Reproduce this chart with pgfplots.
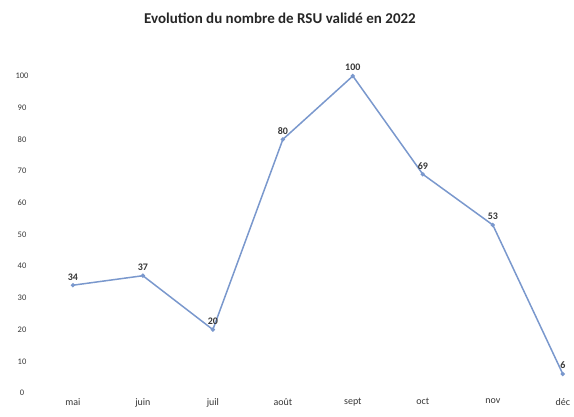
\documentclass[border=0pt]{standalone}
\usepackage{pgfplots}
\pgfplotsset{compat=1.18}
\usepackage{fontspec}
\setmainfont{Carlito}
\definecolor{linec}{RGB}{122,152,205}
\definecolor{lab}{RGB}{55,55,55}
\begin{document}
\begin{tikzpicture}[x=1pt,y=1pt]
\useasboundingbox (0,0) rectangle (574,416);
\node[font=\fontsize{15}{17}\selectfont\bfseries, text=black!85] at (280,398) {Evolution du nombre de RSU validé en 2022};
\begin{axis}[
  at={(40pt,23pt)}, anchor=south west,
  scale only axis, width=534pt, height=317pt,
  xmin=-0.47, xmax=7.16, ymin=0, ymax=100,
  axis line style={draw=none}, tick style={draw=none},
  xtick={0,...,7},
  xticklabels={mai,juin,juil,août,sept,oct,nov,déc},
  ytick={0,10,...,100},
  x tick label style={font=\fontsize{10}{11}\selectfont, text=lab, yshift=-2pt},
  y tick label style={font=\fontsize{8.5}{9}\selectfont, text=lab},
  yticklabel style={anchor=center, xshift=-18pt},
  /pgf/number format/assume math mode=true,
  clip=false,
  nodes near coords,
  every node near coord/.append style={font=\fontsize{10}{11}\selectfont\bfseries, text=lab, yshift=1pt},
]
\addplot[color=linec, line width=1.5pt, mark=*, mark size=1.3pt, mark options={fill=linec, draw=linec}]
coordinates {(0,34) (1,37) (2,20) (3,80) (4,100) (5,69) (6,53) (7,6)};
\end{axis}
\end{tikzpicture}
\end{document}
